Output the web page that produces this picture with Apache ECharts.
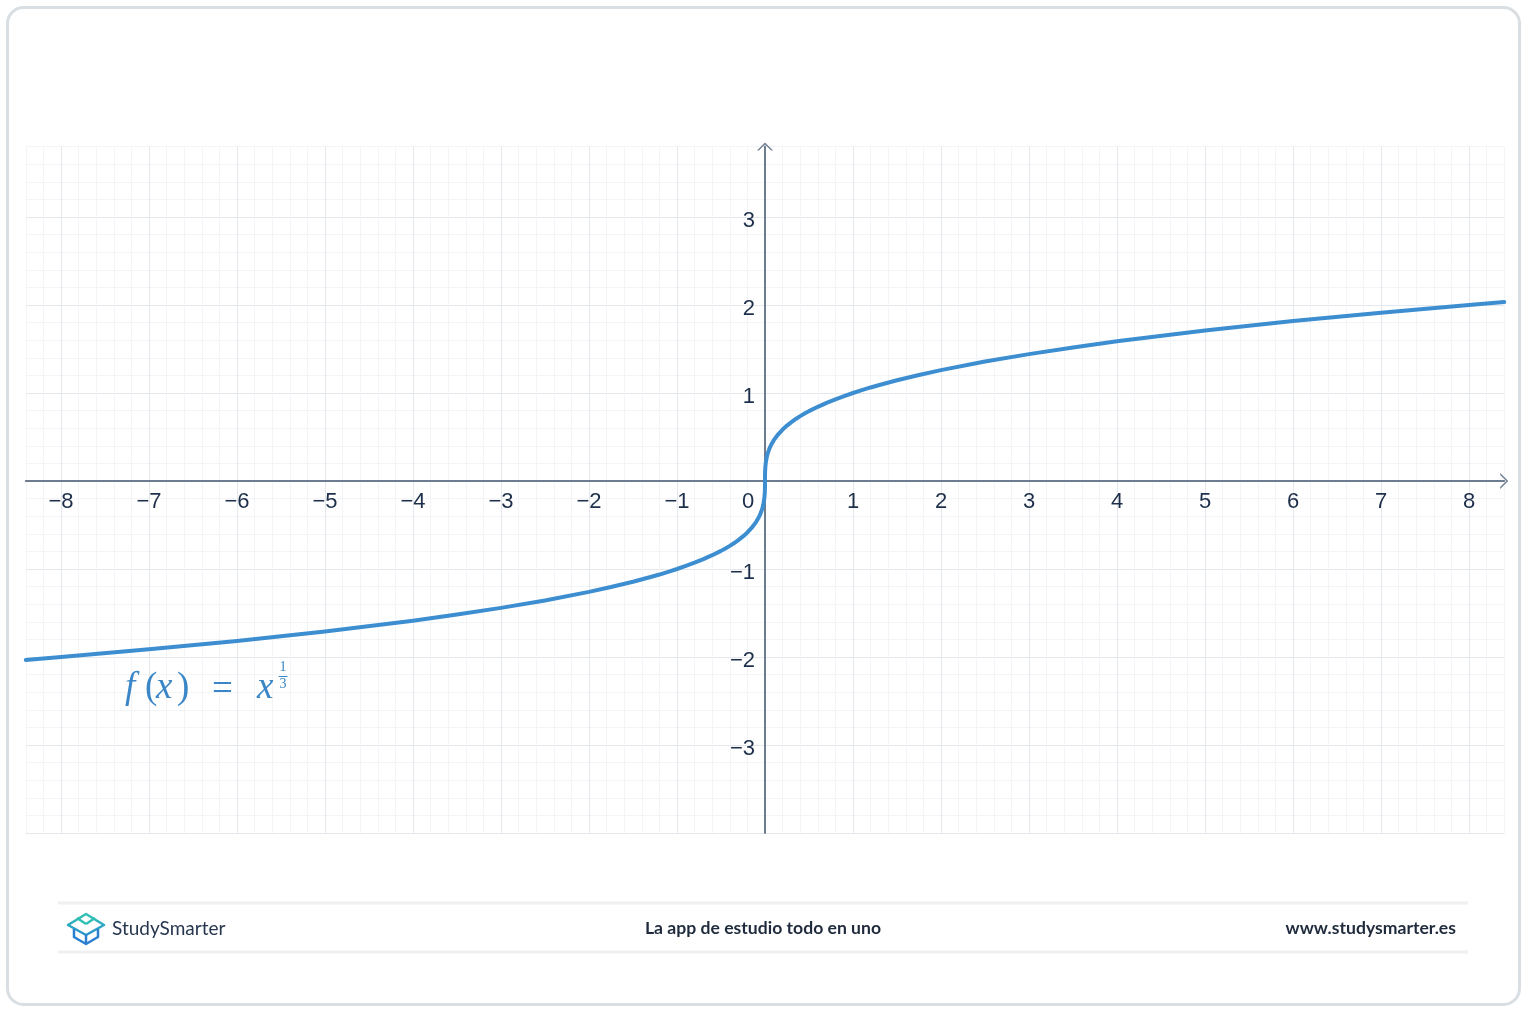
<!DOCTYPE html>
<html>
<head>
<meta charset="utf-8">
<script src="https://cdn.jsdelivr.net/npm/echarts@6/dist/echarts.min.js"></script>
<style>
html,body{margin:0;padding:0;background:#fff;}
#chart{width:1527px;height:1012px;}
</style>
</head>
<body>
<div id="chart"></div>
<script>
// ---- data ----
const xValues = [-8.4,-8,-7,-6,-5,-4,-3.5,-3,-2.5,-2,-1.75,-1.5,-1.3,-1.2,-1.1,-1,-0.9,-0.8,-0.7,-0.6,-0.5,-0.45,-0.4,-0.35,-0.3,-0.25,-0.2,-0.15,-0.1,-0.07,-0.05,-0.03,-0.02,-0.01,-0.005,-0.002,-0.0005,0,
                 0.0005,0.002,0.005,0.01,0.02,0.03,0.05,0.07,0.1,0.15,0.2,0.25,0.3,0.35,0.4,0.45,0.5,0.6,0.7,0.8,0.9,1,1.1,1.2,1.3,1.5,1.75,2,2.5,3,3.5,4,5,6,7,8,8.4];
const yValues = [-2.033,-2,-1.913,-1.817,-1.71,-1.587,-1.518,-1.442,-1.357,-1.26,-1.205,-1.145,-1.091,-1.063,-1.032,-1,-0.965,-0.928,-0.888,-0.843,-0.794,-0.766,-0.737,-0.705,-0.669,-0.63,-0.585,-0.531,-0.464,-0.412,-0.368,-0.311,-0.271,-0.215,-0.171,-0.126,-0.079,0,
                 0.079,0.126,0.171,0.215,0.271,0.311,0.368,0.412,0.464,0.531,0.585,0.63,0.669,0.705,0.737,0.766,0.794,0.843,0.888,0.928,0.965,1,1.032,1.063,1.091,1.145,1.205,1.26,1.357,1.442,1.518,1.587,1.71,1.817,1.913,2,2.033];
const xRange = [-8.4, 8.4];
const yRange = [-4, 3.8];
const xTickLabels = [-8,-7,-6,-5,-4,-3,-2,-1,0,1,2,3,4,5,6,7,8];
const yTickLabels = [-3,-2,-1,1,2,3];
const footerLeft = 'StudySmarter';
const footerCenter = 'La app de estudio todo en uno';
const footerRight = 'www.studysmarter.es';

const seriesData = xValues.map((x, i) => [x, yValues[i]]);

const MAJOR = '#e4e7eb', MINOR = '#f3f4f6';
const AXIS = '#6e7c90', LABEL = '#1d2f4a';
const FORMULA = '#3a86c6';
const arrow = 'path://M0,10 L10,0 L20,10 L17.6,10 L10,2.4 L2.4,10 Z';
const LABEL_FONT = 'Liberation Sans, Arial, sans-serif';

// grid geometry (pixels)
const G = {left: 25.8, right: 22.8, top: 146.6, bottom: 179};
const plotW = 1527 - G.left - G.right, plotH = 1012 - G.top - G.bottom;
// move the axes onto the zero lines by offsetting them into the plot
const xAxisOffset = -plotH * (0 - yRange[0]) / (yRange[1] - yRange[0]);
const yAxisOffset = -plotW * (0 - xRange[0]) / (xRange[1] - xRange[0]);

function fmt(v, list, style) {
  const r = Math.round(v);
  if (Math.abs(v - r) > 1e-6 || list.indexOf(r) < 0) return '';
  if (r === 0) return '{z|0}';
  return '{' + style + '|' + String(r).replace('-', '\u2212') + '}';
}

function serifText(x, y, text, size, italic) {
  return {type: 'text', x: x, y: y, z: 20, style: {text: text, verticalAlign: 'middle', fontFamily: 'Liberation Serif, serif',
    fontStyle: italic ? 'italic' : 'normal', fontSize: size, fill: FORMULA}};
}

const labelStyle = {fontSize: 22, color: LABEL, fontFamily: LABEL_FONT};

const chart = echarts.init(document.getElementById('chart'), null, {renderer: 'canvas'});
chart.setOption({
  backgroundColor: '#ffffff',
  animation: false,
  grid: {left: G.left, right: G.right, top: G.top, bottom: G.bottom, containLabel: false, outerBoundsMode: 'none'},
  xAxis: {
    type: 'value', min: xRange[0], max: xRange[1], interval: 0.2, position: 'bottom', offset: xAxisOffset,
    axisLine: {onZero: false, lineStyle: {color: AXIS, width: 2}, symbol: ['none', arrow], symbolSize: [16, 8]},
    axisTick: {show: false},
    axisLabel: {
      formatter: v => fmt(v, xTickLabels, 'n'), color: LABEL, fontSize: 22, fontFamily: LABEL_FONT, margin: 10,
      rich: {n: labelStyle, z: Object.assign({padding: [0, 34, 0, 0]}, labelStyle)}
    },
    splitLine: {show: true, lineStyle: {color: [MINOR, MINOR, MAJOR, MINOR, MINOR], width: 1}}
  },
  yAxis: {
    type: 'value', min: yRange[0], max: yRange[1], interval: 0.2, position: 'left', offset: yAxisOffset,
    axisLine: {onZero: false, lineStyle: {color: AXIS, width: 2}, symbol: ['none', arrow], symbolSize: [16, 8]},
    axisTick: {show: false},
    axisLabel: {
      formatter: v => fmt(v, yTickLabels, 'y'), color: LABEL, fontSize: 22, fontFamily: LABEL_FONT, margin: 10,
      rich: {y: Object.assign({padding: [8, 0, 0, 0]}, labelStyle)}
    },
    splitLine: {show: true, lineStyle: {color: [MAJOR, MINOR, MINOR, MINOR, MINOR], width: 1}}
  },
  series: [{
    type: 'line', data: seriesData, showSymbol: false, smooth: false,
    lineStyle: {color: '#3d8ed0', width: 4, cap: 'round', join: 'round'},
    z: 5
  }],
  graphic: [
    {type: 'rect', shape: {x: 7.5, y: 7.5, width: 1512, height: 997, r: 16}, style: {fill: 'none', stroke: '#d9dee3', lineWidth: 3}, z: 10},
    {type: 'line', shape: {x1: 58, y1: 903, x2: 1468, y2: 903}, style: {stroke: '#eef0f2', lineWidth: 3}},
    {type: 'line', shape: {x1: 58, y1: 952, x2: 1468, y2: 952}, style: {stroke: '#eef0f2', lineWidth: 3}},
    // formula f(x) = x^(1/3)
    serifText(125, 688, 'f', 37, true),
    serifText(145, 688, '(', 37, false),
    serifText(156, 688, 'x', 37, true),
    serifText(177, 688, ')', 37, false),
    serifText(212, 690, '=', 37, false),
    serifText(257, 688, 'x', 37, true),
    {type: 'text', x: 283, y: 667, z: 20, style: {text: '1', align: 'center', verticalAlign: 'middle', fontFamily: 'Liberation Serif, serif', fontSize: 14, fill: FORMULA}},
    {type: 'line', shape: {x1: 278.5, y1: 676.5, x2: 287.5, y2: 676.5}, z: 20, style: {stroke: FORMULA, lineWidth: 1}},
    {type: 'text', x: 283, y: 684, z: 20, style: {text: '3', align: 'center', verticalAlign: 'middle', fontFamily: 'Liberation Serif, serif', fontSize: 14, fill: FORMULA}},
    // footer logo
    {type: 'polygon', shape: {points: [[68, 925], [86, 914], [104, 925], [86, 935]]}, style: {fill: 'none', stroke: new echarts.graphic.LinearGradient(0,0,0,1,[{offset:0,color:'#2fc8b0'},{offset:1,color:'#2a8ad0'}]), lineWidth: 2.5, lineJoin: 'round'}},
    {type: 'polyline', shape: {points: [[74, 929], [74, 937], [86, 944], [98, 937], [98, 929]]}, style: {fill: 'none', stroke: '#2a7fd0', lineWidth: 2.5, lineJoin: 'round'}},
    {type: 'line', shape: {x1: 86, y1: 935, x2: 86, y2: 944}, style: {stroke: '#2a7fd0', lineWidth: 2.5}},
    {type: 'line', shape: {x1: 77, y1: 918, x2: 86, y2: 924}, style: {stroke: '#2fc0b4', lineWidth: 2.5}},
    {type: 'line', shape: {x1: 95, y1: 918, x2: 86, y2: 924}, style: {stroke: '#2fc0b4', lineWidth: 2.5}},
    {type: 'text', x: 112, y: 929, style: {text: footerLeft, verticalAlign: 'middle', fontFamily: 'Lato, sans-serif', fontSize: 19, fill: '#26364f'}},
    {type: 'text', x: 763, y: 928, style: {text: footerCenter, align: 'center', verticalAlign: 'middle', fontFamily: 'Lato, sans-serif', fontWeight: 'bold', fontSize: 17.6, fill: '#1f2b3d'}},
    {type: 'text', x: 1456, y: 928, style: {text: footerRight, align: 'right', verticalAlign: 'middle', fontFamily: 'Lato, sans-serif', fontWeight: 'bold', fontSize: 17.6, fill: '#1f2b3d'}}
  ]
});
</script>
</body>
</html>
